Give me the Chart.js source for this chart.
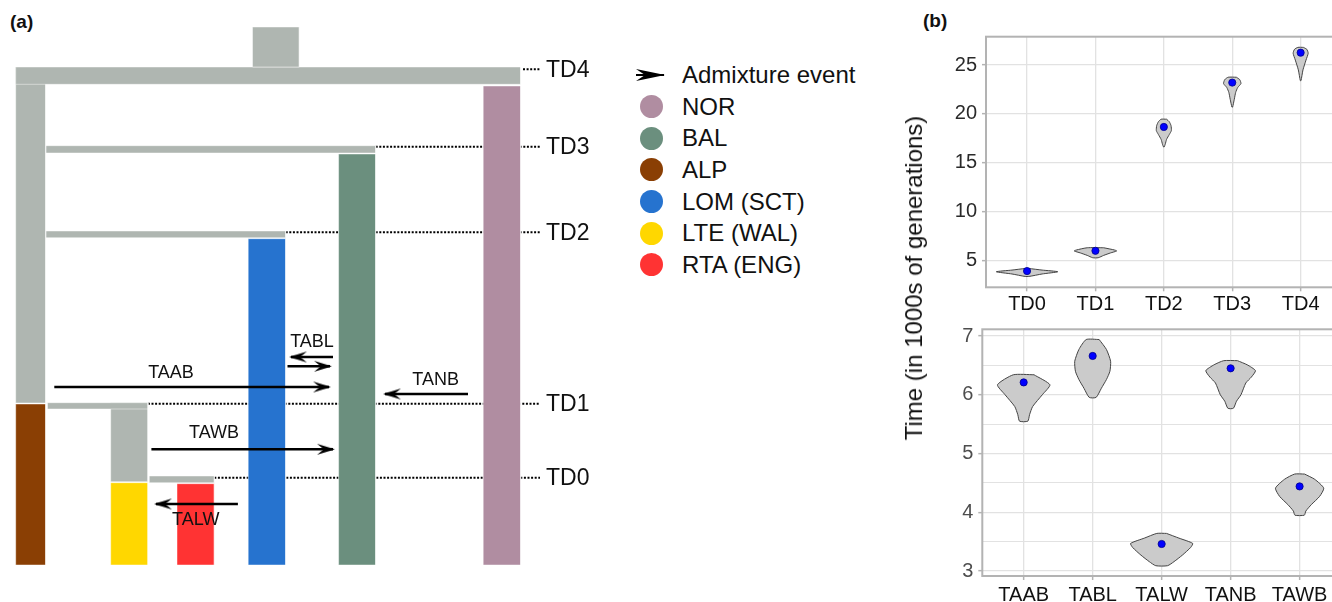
<!DOCTYPE html>
<html>
<head>
<meta charset="utf-8">
<script src="https://cdn.jsdelivr.net/npm/chart.js@4.4.1/dist/chart.umd.min.js"></script>
<style>
  html, body { margin: 0; padding: 0; background: #fff; }
  body {
    width: 1332px; height: 602px; overflow: hidden; position: relative;
    font-family: "Liberation Sans", Arial, sans-serif; color: #111;
  }
  canvas { position: absolute; }
  #treeCanvas { left: 0; top: 0; }
  #topCanvas { left: 900px; top: 0; }
  #bottomCanvas { left: 900px; top: 300px; }
  .tag { position: absolute; font-weight: bold; font-size: 19px; line-height: 19px; }
  #legend { position: absolute; left: 636px; top: 59px; }
  .row { height: 31.7px; display: flex; align-items: center; font-size: 24px; }
  .row .icon { width: 46px; display: flex; align-items: center; }
  .dot { width: 23px; height: 23px; border-radius: 50%; margin-left: 4px; }
  #ytitle {
    position: absolute; left: 914px; top: 278px; font-size: 24px; white-space: nowrap;
    transform: translate(-50%, -50%) rotate(-90deg);
  }
</style>
</head>
<body>
<div class="tag" style="left:10px; top:12px;">(a)</div>
<div class="tag" style="left:923px; top:11px;">(b)</div>
<canvas id="treeCanvas" width="620" height="602"></canvas>
<div id="legend"></div>
<canvas id="topCanvas" width="460" height="320"></canvas>
<canvas id="bottomCanvas" width="460" height="302"></canvas>
<div id="ytitle">Time (in 1000s of generations)</div>
<script>
// ---- panel (a): schematic tree; x in drawing units, h = height above present ----
const tdNames = ["TD0", "TD1", "TD2", "TD3", "TD4"];
const tdLevels = [87.3, 161.3, 332.7, 418.3, 495.7];
const tdLineStart = [214.3, 147.9, 285.7, 375.7, 523];
const tdLineEnd = 540;
const tdLabelX = 546;

// branches: left, right, bottom, top, population
const branchX0 = [252.5, 15.7, 15.7, 483.2, 45.7, 338.6, 45.7, 248.2, 15.7, 47.5, 110.7, 110.7, 149.3, 177];
const branchX1 = [299.3, 520.7, 45.7, 520.7, 375.7, 375.7, 285.7, 285.7, 45.7, 147.9, 147.9, 147.9, 214.3, 214.3];
const branchBottom = [498, 480.7, 162, 0, 412, 0, 327.3, 0, 0, 156, 83.3, 0, 82.3, 0];
const branchTop = [538, 498, 498, 479, 419.3, 411, 334, 326.3, 161, 162.3, 162.3, 82.3, 89, 81.3];
const branchPop = ["anc", "anc", "anc", "NOR", "anc", "BAL", "anc", "LOM", "ALP", "anc", "anc", "LTE", "anc", "RTA"];

// admixture arrows
const arrowFromX = [54.3, 333, 287.5, 468, 151.4, 237.9];
const arrowToX = [329, 291, 330, 385, 333, 156];
const arrowH = [178, 208, 198.7, 171, 115.7, 61];
const eventLabels = ["TAAB", "TABL", "TANB", "TAWB", "TALW"];
const eventLabelX = [171, 312, 435.7, 214, 195.7];
const eventLabelH = [192, 223.3, 185, 132.3, 45];

const legendPops = ["NOR", "BAL", "ALP", "LOM (SCT)", "LTE (WAL)", "RTA (ENG)"];

// ---- panel (b): violin profiles [value, half width in category units] ----
const tdCats = ["TD0", "TD1", "TD2", "TD3", "TD4"];
const tdMeans = [3.95, 6.02, 18.67, 23.2, 26.26];
const tdProfiles = [
  [[4.22, 0.02], [4.05, 0.22], [3.88, 0.45], [3.65, 0.22], [3.4, 0.03]],
  [[6.33, 0.12], [6.1, 0.28], [6.0, 0.31], [5.8, 0.22], [5.55, 0.12], [5.31, 0.04]],
  [[19.46, 0.04], [19.2, 0.08], [18.8, 0.105], [18.3, 0.11], [17.9, 0.08], [17.4, 0.04], [16.9, 0.02], [16.63, 0.005]],
  [[23.75, 0.06], [23.5, 0.11], [23.1, 0.127], [22.7, 0.08], [22.2, 0.05], [21.5, 0.03], [20.7, 0.005]],
  [[26.8, 0.04], [26.6, 0.09], [26.2, 0.11], [25.5, 0.078], [24.5, 0.034], [23.4, 0.005]]
];
const tdTicks = [5, 10, 15, 20, 25];

const adCats = ["TAAB", "TABL", "TALW", "TANB", "TAWB"];
const adMeans = [6.21, 6.66, 3.46, 6.45, 4.44];
const adProfiles = [
  [[6.34, 0.15], [6.17, 0.38], [6.0, 0.27], [5.8, 0.13], [5.66, 0.085], [5.55, 0.06]],
  [[6.94, 0.094], [6.77, 0.2], [6.57, 0.26], [6.4, 0.25], [6.26, 0.2], [6.11, 0.126], [5.955, 0.05]],
  [[3.64, 0.07], [3.56, 0.25], [3.47, 0.45], [3.4, 0.42], [3.27, 0.3], [3.16, 0.18], [3.09, 0.085]],
  [[6.58, 0.1], [6.51, 0.24], [6.41, 0.36], [6.3, 0.3], [6.2, 0.22], [6.0, 0.15], [5.89, 0.085], [5.77, 0.04]],
  [[4.65, 0.072], [4.56, 0.22], [4.41, 0.35], [4.27, 0.29], [4.13, 0.17], [4.02, 0.09], [3.95, 0.068]]
];
const adTicks = [3, 3.5, 4, 4.5, 5, 5.5, 6, 6.5, 7];

// ---- styles ----
const popColours = {
  anc: "#AFB6B1", NOR: "#B08DA1", BAL: "#6B8F7E", ALP: "#8A3F04",
  LOM: "#2673CF", LTE: "#FFD700", RTA: "#FF3333"
};
const FONT = '"Liberation Sans", Arial, sans-serif';

// legend (html)
const legendEl = document.getElementById("legend");
legendEl.innerHTML =
  '<div class="row"><span class="icon"><svg width="30" height="14">' +
  '<line x1="0" y1="7" x2="28" y2="7" stroke="#000" stroke-width="2"/>' +
  '<polygon points="0,1 29,7 0,13 9,7" fill="#000"/></svg></span>Admixture event</div>' +
  legendPops.map(p => {
    const key = p.split(" ")[0];
    return '<div class="row"><span class="icon"><span class="dot" style="background:' +
      popColours[key] + '"></span></span>' + p + '</div>';
  }).join("");

// arrow head used as point style (tip sits at the point)
function makeHead() {
  const L = 18, H = 5.5;
  const c = document.createElement("canvas");
  c.width = 2 * L + 4; c.height = 2 * H + 2;
  const g = c.getContext("2d");
  const cx = c.width / 2 + 2, cy = c.height / 2;
  g.fillStyle = "#000";
  g.beginPath();
  g.moveTo(cx, cy);
  g.lineTo(cx - L, cy - H);
  g.lineTo(cx - L * 0.62, cy);
  g.lineTo(cx - L, cy + H);
  g.closePath();
  g.fill();
  return c;
}
const head = makeHead();

const treeDatasets = [];
tdLevels.forEach((h, i) => {
  treeDatasets.push({
    data: [{ x: tdLineStart[i], y: h }, { x: tdLineEnd, y: h }],
    showLine: true, borderColor: "#000", borderWidth: 2, borderDash: [2, 1.6],
    pointRadius: 0, order: 3
  });
});
branchX0.forEach((x0, i) => {
  const x1 = branchX1[i], b = branchBottom[i], t = branchTop[i];
  treeDatasets.push({
    data: [{ x: x0, y: b }, { x: x0, y: t }, { x: x1, y: t }, { x: x1, y: b }, { x: x0, y: b }],
    showLine: true, fill: "shape", backgroundColor: popColours[branchPop[i]],
    borderColor: "rgba(255,255,255,0.45)", borderWidth: 1, pointRadius: 0, order: 2
  });
});
arrowFromX.forEach((x0, i) => {
  treeDatasets.push({
    data: [{ x: x0, y: arrowH[i] }, { x: arrowToX[i], y: arrowH[i] }],
    showLine: true, borderColor: "#000", borderWidth: 2.5,
    pointRadius: [0, 6], pointStyle: head, pointRotation: arrowToX[i] < x0 ? 180 : 0,
    order: 1
  });
});

const treeLabels = {
  id: "treeLabels",
  afterDatasetsDraw(chart) {
    const { ctx, scales: { x, y } } = chart;
    ctx.save();
    ctx.fillStyle = "#111";
    ctx.textBaseline = "middle";
    ctx.textAlign = "left";
    ctx.font = "23px " + FONT;
    tdNames.forEach((n, i) => ctx.fillText(n, x.getPixelForValue(tdLabelX), y.getPixelForValue(tdLevels[i]) + 1));
    ctx.textAlign = "center";
    ctx.font = "18px " + FONT;
    eventLabels.forEach((n, i) => ctx.fillText(n, x.getPixelForValue(eventLabelX[i]), y.getPixelForValue(eventLabelH[i])));
    ctx.restore();
  }
};

new Chart(document.getElementById("treeCanvas"), {
  type: "scatter",
  data: { datasets: treeDatasets },
  options: {
    responsive: false, animation: false,
    layout: { padding: 0, autoPadding: false },
    plugins: { legend: { display: false }, tooltip: { enabled: false } },
    scales: {
      x: { type: "linear", min: 0, max: 620, display: false },
      y: { type: "linear", min: -37, max: 565, display: false }
    }
  },
  plugins: [treeLabels]
});

// ---- violin panels ----
const panelBorder = {
  id: "panelBorder",
  afterDraw(chart) {
    const { ctx, chartArea: a } = chart;
    ctx.save();
    ctx.strokeStyle = "#B3B3B3";
    ctx.lineWidth = 2;
    ctx.strokeRect(a.left, a.top, a.right - a.left, a.bottom - a.top);
    ctx.restore();
  }
};

function violinChart(canvasId, cats, profiles, means, yMin, yMax, yTicks, geom) {
  const datasets = profiles.map((prof, i) => {
    const right = prof.map(([v, w]) => ({ x: i + w, y: v }));
    const left = prof.slice().reverse().map(([v, w]) => ({ x: i - w, y: v }));
    return {
      data: right.concat(left, [right[0]]),
      showLine: true, fill: "shape", backgroundColor: "#CBCBCB",
      borderColor: "#444", borderWidth: 1, pointRadius: 0, tension: 0.2, order: 2
    };
  });
  datasets.push({
    data: means.map((m, i) => ({ x: i, y: m })),
    pointRadius: 3.6, pointBackgroundColor: "#0000FF", pointBorderColor: "#00008B",
    pointBorderWidth: 0.8, order: 1
  });
  const isMajor = v => Number.isInteger(v);
  new Chart(document.getElementById(canvasId), {
    type: "scatter",
    data: { datasets },
    options: {
      responsive: false, animation: false,
      layout: { padding: { top: geom.top, right: geom.right, left: 0, bottom: 0 }, autoPadding: false },
      plugins: { legend: { display: false }, tooltip: { enabled: false } },
      scales: {
        x: {
          type: "linear", min: -0.6, max: cats.length - 0.4,
          afterBuildTicks: s => { s.ticks = cats.map((c, i) => ({ value: i })); },
          afterFit: s => { s.height = geom.xh; },
          ticks: {
            callback: v => cats[v], color: "#111", padding: geom.xpad,
            font: { family: FONT, size: 20 }, maxRotation: 0, autoSkip: false
          },
          grid: { color: "#E2E2E2", lineWidth: 1.3, tickLength: 4, tickColor: "#B3B3B3", tickWidth: 1.5 },
          border: { display: false }
        },
        y: {
          type: "linear", min: yMin, max: yMax,
          afterBuildTicks: s => { s.ticks = yTicks.map(v => ({ value: v })); },
          afterFit: s => { s.width = geom.yw; },
          ticks: {
            callback: v => (isMajor(v) ? String(v) : ""), color: geom.ycol, padding: 5,
            font: { family: FONT, size: 20 }, autoSkip: false
          },
          grid: {
            color: "#E2E2E2",
            lineWidth: c => (isMajor(c.tick.value) ? 1.3 : 1),
            tickLength: 4, tickWidth: 1.5,
            tickColor: c => (isMajor(c.tick.value) ? "#B3B3B3" : "rgba(0,0,0,0)")
          },
          border: { display: false }
        }
      }
    },
    plugins: [panelBorder]
  });
}

violinChart("topCanvas", tdCats, tdProfiles, tdMeans, 2.29, 27.89, tdTicks,
  { top: 36.7, right: 18.3, yw: 86, xh: 32.7, xpad: 1, ycol: "#2a2a2a" });
violinChart("bottomCanvas", adCats, adProfiles, adMeans, 2.915, 7.114, adTicks,
  { top: 29.3, right: 19, yw: 82.3, xh: 26, xpad: 3, ycol: "#4d4d4d" });
</script>
</body>
</html>
